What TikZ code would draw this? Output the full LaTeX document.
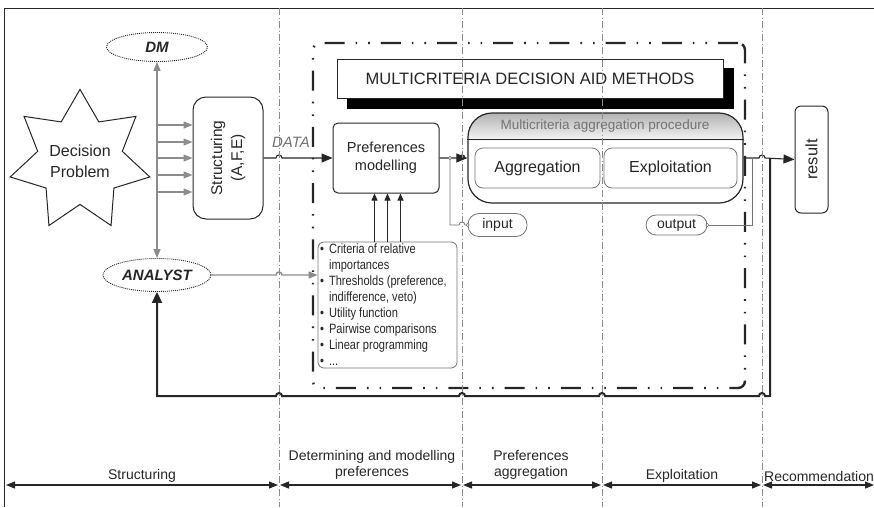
\documentclass[tikz,border=0pt]{standalone}
\usepackage{fontspec}
\setmainfont{Liberation Sans}
\newfontfamily\narrowfont[FakeStretch=0.82]{Liberation Sans}
\usetikzlibrary{shapes.geometric,arrows.meta,calc}
\definecolor{ink}{gray}{0.15}
\definecolor{linegray}{gray}{0.55}
\definecolor{sepgray}{gray}{0.55}
\definecolor{softgray}{gray}{0.45}
% a small upward bump where a line crosses a phase separator
\newcommand\hopR[2]{-- ({#1-3},#2) arc[start angle=180,end angle=360,radius=3]}
\newcommand\hopL[2]{-- ({#1+3},#2) arc[start angle=0,end angle=-180,radius=3]}
\begin{document}
\begin{tikzpicture}[x=1pt,y=-1pt,
  every node/.style={text=ink},
  sepline/.style={draw=sepgray, line width=0.7pt, dash pattern=on 7pt off 2.5pt on 1pt off 2.5pt},
  roundbox/.style={draw=ink, line width=1pt, rounded corners=#1},
  softbox/.style={draw=softgray, line width=0.8pt, rounded corners=#1},
  actor/.style={ellipse, draw=ink, line width=0.9pt, dash pattern=on 1pt off 1pt, minimum width=101pt,
    font=\fontsize{15}{17}\selectfont\bfseries\itshape},
  garrow/.style={draw=linegray, line width=1.4pt, -{Triangle[length=9pt,width=7pt]}, linegray},
  barrow/.style={draw=ink, line width=1.1pt, -{Triangle[length=11pt,width=9pt]}},
  thinarrow/.style={draw=ink, line width=0.8pt, -{Triangle[length=7pt,width=6pt]}},
  thinline/.style={draw=softgray, line width=0.8pt},
  feedback/.style={draw=ink, line width=2pt, -{Triangle[length=11pt,width=10pt]}},
  phasearrow/.style={draw=ink, line width=1.2pt, {Triangle[length=9pt,width=7pt]}-{Triangle[length=9pt,width=7pt]}},
  phaselabel/.style={font=\fontsize{14}{16}\selectfont, align=center},
  mcdaframe/.style={draw=ink, line width=2.4pt, rounded corners=7pt,
    dash pattern=on 20pt off 11pt on 1.6pt off 11pt on 1.6pt off 11pt}
]
\useasboundingbox (0,0) rectangle (874,507);

% outer table edges
\draw[ink, line width=1pt] (4,507) -- (4,8) -- (874,8);

% multicriteria decision aid frame
\node[mcdaframe, minimum width=432pt, minimum height=345pt] (frame) at (529,215.5) {};

% decision problem and actors
\node[star, star points=7, star point ratio=1.65, draw=ink, line width=1pt,
  minimum size=142pt, inner sep=0pt, align=center,
  font=\fontsize{16}{21}\selectfont] (prob) at (80,161) {Decision\\Problem};
\node[actor, minimum height=29pt] (dm) at (157,47) {DM};
\node[actor, minimum height=33pt] (analyst) at (157,275) {ANALYST};

% structuring box
\node[roundbox=13pt, minimum width=70pt, minimum height=122pt] (struct) at (228,158) {};
\node[rotate=90, align=center, font=\fontsize{15.5}{20}\selectfont] (structtxt) at (struct.center) {Structuring\\(A,F,E)};

% title of the methods block with its shadow
\fill[black] (347,68) rectangle (734,109);
\node[roundbox=0pt, fill=white, minimum width=386pt, minimum height=39pt,
  font=\fontsize{16.5}{19}\selectfont] (mcda) at (530,78.5) {MULTICRITERIA DECISION AID METHODS};

% preferences modelling
\node[roundbox=5pt, minimum width=106pt, minimum height=70pt, align=center,
  font=\fontsize{14.5}{18}\selectfont] (pref) at (386,158) {Preferences\\modelling};

% aggregation procedure with shaded header
\begin{scope}
  \clip[rounded corners=24pt] (468,113) rectangle (743,203);
  \shade[top color=gray!60, bottom color=gray!8] (468,113) rectangle (743,140);
\end{scope}
\node[roundbox=24pt, line width=1.2pt, minimum width=275pt, minimum height=90pt] (proc) at (605.5,158) {};
\draw[ink, line width=0.9pt] ($(proc.north west)+(0,27)$) -- ($(proc.north east)+(0,27)$);
\node[font=\fontsize{13.5}{15}\selectfont, text=softgray] (proctitle) at (605,126.5) {Multicriteria aggregation procedure};
\node[softbox=8pt, minimum width=125pt, minimum height=40pt, font=\fontsize{16}{18}\selectfont] (aggr) at (537.5,168) {Aggregation};
\node[softbox=8pt, minimum width=133pt, minimum height=40pt, font=\fontsize{16}{18}\selectfont] (expl) at (670.5,168) {Exploitation};

% input / output tags
\node[softbox=11pt, minimum width=59pt, minimum height=23pt, font=\fontsize{14}{16}\selectfont] (input) at (497.5,225) {input};
\node[softbox=10pt, minimum width=61pt, minimum height=20pt, font=\fontsize{14}{16}\selectfont] (output) at (676.5,225) {output};

% result
\node[roundbox=6pt, minimum width=33pt, minimum height=107pt] (result) at (811.5,159.5) {};
\node[rotate=90, font=\fontsize{16.5}{18}\selectfont] (resulttxt) at (result.center) {result};

% preference information
\node[softbox=6pt, minimum width=139pt, minimum height=126pt, inner sep=0pt] (crit) at (387.5,305) {};
\node[anchor=north west, inner sep=0pt, align=left,
  font=\narrowfont\fontsize{13.5}{15.9}\selectfont] (critlist) at (320,242.5) {%
  \begin{tabular}{@{}l@{\hspace{5pt}}l@{}}
  \textbullet & Criteria of relative\\
              & importances\\
  \textbullet & Thresholds (preference,\\
              & indifference, veto)\\
  \textbullet & Utility function\\
  \textbullet & Pairwise comparisons\\
  \textbullet & Linear programming\\
  \textbullet & ...
  \end{tabular}};

% connectors: actors and structuring
\draw[garrow, {Triangle[length=9pt,width=7pt]}-{Triangle[length=9pt,width=7pt]}] (dm.south) -- (analyst.north);
\foreach \y in {125,142,158,175,192}
  \draw[garrow] (dm.south |- 0,\y) -- (struct.west |- 0,\y);

% data flow
\draw[barrow] (struct.east) \hopR{279}{158} -- (pref.west);
\node[font=\fontsize{15}{17}\selectfont\itshape, text=softgray] (datalbl) at (291,142) {DATA};
\draw[barrow] (pref.east) \hopR{462}{158} -- (proc.west);

\coordinate (infork) at (450,158);
\draw[thinline] (infork) -- (infork |- input.west) \hopR{462}{225} -- (input.west);
\draw[softgray, fill=white, line width=0.6pt] (infork) circle (1.6) (input.west) circle (1.6);

\draw[garrow] (analyst.east) \hopR{279}{275} -- (crit.west |- analyst.east);

\foreach \d [count=\i] in {-13,0,13} {
  \coordinate (cin\i) at ($(crit.north)+(\d,0)$);
  \draw[thinarrow] (cin\i) -- (cin\i |- pref.south);
}

% results and feedback
\coordinate (outjoin) at (752,158);
\coordinate (fbfork) at (770,158);
\draw[barrow] (proc.east) \hopR{762}{158} -- (result.west);
\draw[thinline] (output.east) -- (outjoin |- output.east) -- (outjoin);
\draw[softgray, fill=white, line width=0.6pt] (output.east) circle (1.6);
\draw[feedback] (fbfork) -- (fbfork |- 0,396) \hopL{762}{396} \hopL{602}{396}
  \hopL{462}{396} \hopL{279}{396} -- (analyst.south |- 0,396) -- (analyst.south);

% phase separators
\foreach \x in {279,462,602,762}
  \draw[sepline] (\x,8) -- (\x,507);

% phases
\coordinate (p0) at (6,485);
\coordinate (p1) at (279,485);
\coordinate (p2) at (462,485);
\coordinate (p3) at (602,485);
\coordinate (p4) at (762,485);
\coordinate (p5) at (874,485);
\draw[phasearrow] (p0) -- ([xshift=-1pt]p1);
\draw[phasearrow] ([xshift=1pt]p1) -- ([xshift=-1pt]p2);
\draw[phasearrow] ([xshift=1pt]p2) -- ([xshift=-1pt]p3);
\draw[phasearrow] ([xshift=1pt]p3) -- ([xshift=-1pt]p4);
\draw[phasearrow] ([xshift=1pt]p4) -- (p5);
\node[phaselabel] (ph1) at (142,476) {Structuring};
\node[phaselabel] (ph2) at (372,465) {Determining and modelling\\preferences};
\node[phaselabel] (ph3) at (531,465) {Preferences\\aggregation};
\node[phaselabel] (ph4) at (682,476) {Exploitation};
\node[phaselabel] (ph5) at (819,476) {Recommendation};
\end{tikzpicture}
\end{document}
